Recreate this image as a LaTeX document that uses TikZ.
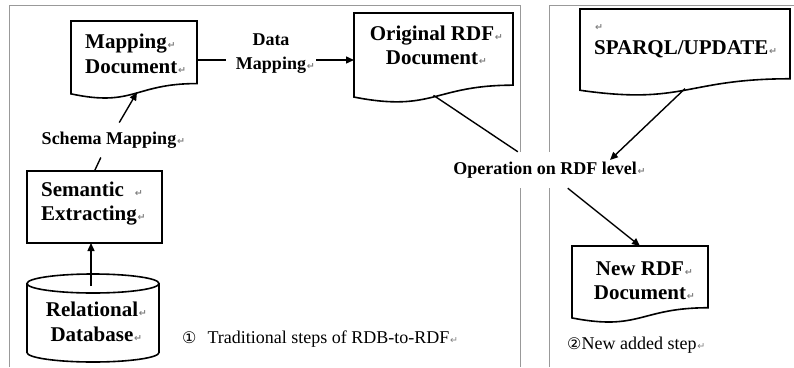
\documentclass[tikz,border=0pt]{standalone}
\usepackage{fontspec}
\setmainfont{Liberation Serif}
\newfontfamily\symfont{DejaVu Sans}
\usetikzlibrary{calc,arrows.meta}

% paragraph mark after a line, kept out of the line width
\newcommand\retmark{\rlap{\kern0.8pt\textcolor{gray}{\symfont\fontsize{9.5}{9.5}\selectfont ↵}}}
\newcommand\circled[1]{{\symfont\fontsize{16}{16}\selectfont #1}}

% outline of a flowchart "document" symbol around an empty frame node
\newcommand\docoutline[1]{%
  \draw[shapeline] (#1.north west) -- (#1.north east)
    -- ($(#1.north east)!0.802!(#1.south east)$)
    .. controls ($(#1.north)!0.802!(#1.south)$) and ($(#1.north)!1.107!(#1.south)$)
    .. ($(#1.north west)!0.934!(#1.south west)$) -- cycle;}

\begin{document}
\begin{tikzpicture}[x=1pt,y=-1pt,
  shapeline/.style={draw=black, line width=1.6pt, line join=miter},
  conn/.style={draw=black, line width=1.4pt},
  arr/.style={conn, -{Triangle[length=8pt,width=7pt]}},
  frame/.style={inner sep=0pt, outer sep=0pt},
  boxtext/.style={font=\bfseries\fontsize{21}{24.5}\selectfont, inner sep=0pt},
  labeltext/.style={font=\bfseries\fontsize{18}{24}\selectfont},
  captiontext/.style={font=\fontsize{18}{22}\selectfont, inner sep=0pt},
  panel/.style={draw=black!40, line width=0.8pt}]

\useasboundingbox[fill=white] (0,0) rectangle (794,367);

% the two panels
\draw[panel] (9,367) -- (9,5.5) -- (520,5.5) -- (520,367);
\draw[panel] (549,367) -- (549,5.5) -- (794,5.5);

% frames of the shapes
\node[frame, minimum width=126pt, minimum height=78pt] (mapdoc) at (134,60) {};
\node[frame, minimum width=159pt, minimum height=90pt] (orig) at (433.5,58) {};
\node[frame, minimum width=210pt, minimum height=87pt] (sparql) at (685,52.5) {};
\node[frame, minimum width=136pt, minimum height=77pt] (newrdf) at (640,284.5) {};
\node[frame, shapeline, minimum width=135pt, minimum height=72pt] (sem) at (94.5,207) {};
\node[frame, minimum width=132pt, minimum height=88pt] (rdb) at (93,318) {};

\docoutline{mapdoc}
\docoutline{orig}
\docoutline{sparql}
\docoutline{newrdf}

% relational database cylinder
\draw[shapeline] ($(rdb.north)+(0,9.5)$) ellipse [x radius=66pt, y radius=9.5pt];
\draw[shapeline] ($(rdb.north west)+(0,9.5)$) -- ($(rdb.south west)+(0,-9.5)$)
  arc[start angle=180, end angle=360, x radius=66pt, y radius=9.5pt]
  -- ($(rdb.north east)+(0,9.5)$);

% texts inside the shapes
\node[boxtext, align=left, anchor=west] (mapdoct) at (85,54) {Mapping\retmark\\Document\retmark};
\node[boxtext, align=center] (origt) at (432,45.5) {Original RDF\retmark\\Document\retmark};
\node[boxtext, align=left, anchor=west] (sparqlt) at (594,41) {\retmark\\SPARQL/UPDATE\retmark};
\node[boxtext, align=center] (newrdft) at (640,280.5) {New RDF\retmark\\Document\retmark};
\node[boxtext, align=left, anchor=west] (semt) at (41,203.5) {Semantic\hspace{10pt}\retmark\\Extracting\retmark};
\node[boxtext, align=center] (rdbt) at (92,322) {Relational\retmark\\Database\retmark};

% connector labels
\node[labeltext, inner xsep=2pt, inner ysep=9pt] (schema) at (109,140) {Schema Mapping\retmark};
\node[labeltext, align=center, inner xsep=10pt] (data) at (271,54) {Data\\Mapping\retmark};
\node[labeltext, fill=white, inner xsep=4pt, minimum height=36pt] (op) at (545,170) {Operation on RDF level\retmark};

% anchor points on the wavy bottoms
\coordinate (mapdocb) at ($(mapdoc.north)!0.915!(mapdoc.south)+(3,0)$);
\coordinate (origb) at ($(orig.north)!0.915!(orig.south)$);
\coordinate (sparqlb) at ($(sparql.north)!0.915!(sparql.south)$);
\coordinate (rdbtop) at ($(rdb.north)+(-2,12)$);

% connectors
\draw[arr] (rdbtop) -- (rdbtop |- sem.south);
\draw[conn] (sem.north) -- (schema);
\draw[arr] (schema) -- (mapdocb);
\draw[conn] (mapdoc.east) -- (mapdoc.east -| data.west);
\draw[arr] (data.east |- mapdoc.east) -- (orig.west |- mapdoc.east);
\draw[conn] (origb) -- (op);
\draw[arr] (sparqlb) -- ([shift={(65pt,10pt)}]op.center);
\draw[arr] (op) -- (newrdf.north);

% panel captions
\node[captiontext, anchor=west] (cap1) at (182,339) {\circled{①}\hspace{11pt}Traditional steps of RDB-to-RDF\retmark};
\node[captiontext, anchor=west] (cap2) at (567,345) {\circled{②}New added step\retmark};

\end{tikzpicture}
\end{document}
